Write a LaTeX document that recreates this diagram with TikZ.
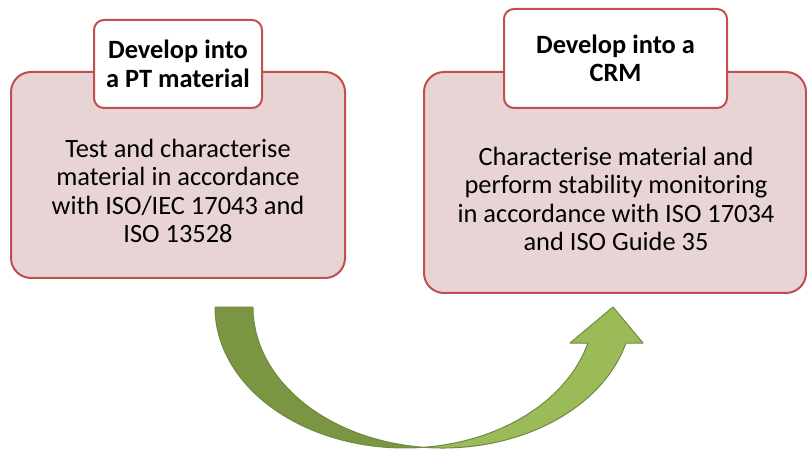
\documentclass[tikz,border=0pt]{standalone}
\usepackage{fontspec}
\setmainfont{Carlito}
\usetikzlibrary{positioning}
\definecolor{boxred}{RGB}{192,80,77}
\definecolor{boxpink}{RGB}{232,212,212}
\definecolor{tailgreen}{RGB}{122,150,67}
\definecolor{headgreen}{RGB}{155,187,89}
\definecolor{greenline}{RGB}{113,137,63}

\begin{document}
\begin{tikzpicture}[x=1pt,y=1pt,
        stepbox/.style={draw=boxred,line width=2pt,fill=boxpink,rounded corners=20pt,outer sep=0pt},
        titlebox/.style={draw=boxred,line width=2pt,fill=white,rounded corners=10pt,outer sep=0pt,
                         align=center,font=\fontsize{26.4}{28.5}\selectfont\bfseries},
        bodytext/.style={align=center,inner sep=0pt,font=\fontsize{26.4}{28.5}\selectfont},
        curvearrow/.style={draw=greenline,line width=1pt,line join=round}]
   \useasboundingbox (0,0) rectangle (807,448);
   % left step
   \node (ptbox) [stepbox,minimum width=334pt,minimum height=206pt] at (178,273) {};
   \node (ptstep) [bodytext] at (178,257) {Test and characterise\\material in accordance\\with ISO/IEC 17043 and\\ISO 13528};
   \node (pttitle) [titlebox,minimum width=168pt,minimum height=88pt] at (178,384) {Develop into\\a PT material};
   % right step
   \node (crmbox) [stepbox,minimum width=382pt,minimum height=221pt] at (615,265.5) {};
   \node (crmstep) [bodytext] at (616,249) {Characterise material and\\perform stability monitoring\\in accordance with ISO 17034\\and ISO Guide 35};
   \node (crmtitle) [titlebox,minimum width=223pt,minimum height=99pt] at (615.5,389.5) {Develop into a\\CRM};
   % curved arrow
   \coordinate (tail) at (215,141);
   \coordinate (cross) at (423.6,0.7);
   \filldraw[curvearrow,fill=tailgreen] (tail)
        arc[start angle=180,end angle=275.75,x radius=189.6,y radius=141]
        arc[start angle=264.25,end angle=180,x radius=189.6,y radius=141] -- cycle;
   \filldraw[curvearrow,fill=headgreen] (cross)
        arc[start angle=264.25,end angle=345.21,x radius=189.6,y radius=141]
        -- (643,105) -- (613,141) -- (570,105) -- (587.9,105)
        arc[start angle=345.21,end angle=275.75,x radius=189.6,y radius=141] -- cycle;
\end{tikzpicture}
\end{document}
